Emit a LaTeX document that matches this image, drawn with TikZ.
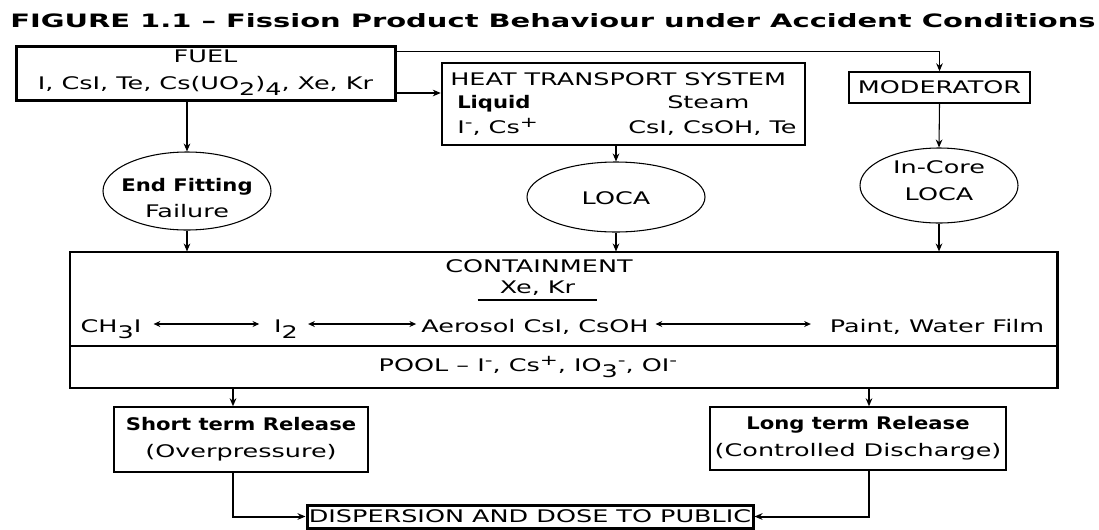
\documentclass[tikz,border=0pt]{standalone}
\usepackage{fontspec}
\setmainfont{DejaVu Sans}[FakeStretch=1.47,BoldFeatures={FakeStretch=1.22}]
\usepackage{graphicx}
\usetikzlibrary{shapes.geometric,arrows.meta}
\newcommand{\lowtext}[1]{\raisebox{-4.5pt}{#1}}
\newcommand{\hightext}[1]{\raisebox{4.5pt}{\fontsize{11}{11}\selectfont #1}}

\begin{document}
\begin{tikzpicture}[x=0.75pt, y=-0.75pt, font=\fontsize{13}{20}\selectfont,
	box/.style = {draw, rectangle, inner sep=0pt, line width=1.1pt, align=center},
	oval/.style = {draw, ellipse, inner sep=0pt, line width=0.8pt},
	txt/.style = {inner sep=0pt, align=center},
	link/.style = {line width=0.8pt, -{Stealth[length=6pt, width=5pt]}},
	both/.style = {line width=0.8pt, {Stealth[length=5pt, width=4.5pt]}-{Stealth[length=5pt, width=4.5pt]}}]
	\clip (0,0) rectangle (1099,529);
	\node[txt, anchor=base west] (title) at (10,27) {\resizebox{814pt}{10.5pt}{\bfseries FIGURE 1.1 -- Fission Product Behaviour under Accident Conditions}};

	\node[box, line width=2.25pt, minimum width=284.25pt, minimum height=40.5pt] (fuel) at (205.5,73) {FUEL\\I, CsI, Te, Cs(UO\lowtext{2})\lowtext{4}, Xe, Kr};

	\node[box, line width=1.9pt, minimum width=272.25pt, minimum height=61.5pt] (hts) at (623.5,104) {};
	\node[txt, anchor=base west] (htstitle) at (450,85) {HEAT TRANSPORT SYSTEM};
	\node[txt, anchor=base west] (liquid) at (457,108) {\textbf{Liquid}};
	\node[txt, anchor=base west] (steam) at (667,108) {Steam};
	\node[txt, anchor=base west] (liqions) at (457,133) {I\hightext{-}, Cs\hightext{+}};
	\node[txt, anchor=base west] (steamions) at (628,133) {CsI, CsOH, Te};

	\node[box, minimum width=135.75pt, minimum height=23.25pt] (mod) at (939.5,87.5) {MODERATOR};

	\node[oval, minimum width=126pt, minimum height=58.5pt] (endfit) at (187,191) {};
	\node[txt] (endfittxt) at (187,198) {\textbf{End Fitting}\\Failure};
	\node[oval, minimum width=133.5pt, minimum height=52.5pt] (loca) at (616,197) {};
	\node[txt] (locatxt) at (616,198) {LOCA};
	\node[oval, minimum width=118.5pt, minimum height=56.25pt] (incore) at (939,185.5) {};
	\node[txt] (incoretxt) at (939,181) {In-Core\\LOCA};

	\node[box, line width=0.8pt, minimum width=740.25pt, minimum height=70.5pt] (cont) at (563.5,299) {};
	\node[box, line width=0.8pt, minimum width=740.25pt, minimum height=31.5pt] (pool) at (563.5,367) {};
	\draw[line width=2.2pt] (cont.north east) -- (pool.south east);
	\node[txt, anchor=base] (conttitle) at (539,272) {CONTAINMENT};
	\node[txt, anchor=base, minimum width=89.25pt] (noble) at (537.5,293) {Xe, Kr};
	\draw[line width=0.8pt] ([yshift=-5.25pt]noble.base west) -- ([yshift=-5.25pt]noble.base east);

	\node[txt, anchor=base] (ch3i) at (111,332) {CH\lowtext{3}I};
	\node[txt, anchor=base] (itwo) at (286,332) {I\lowtext{2}};
	\node[txt, anchor=base] (aerosol) at (535,332) {Aerosol CsI, CsOH};
	\node[txt, anchor=base] (paint) at (937,332) {Paint, Water Film};
	\draw[both, shorten <=9pt, shorten >=11pt] ([yshift=6pt]ch3i.base east) -- ([yshift=6pt]itwo.base west);
	\draw[both, shorten <=7.5pt, shorten >=3.75pt] ([yshift=6pt]itwo.base east) -- ([yshift=6pt]aerosol.base west);
	\draw[both, shorten <=5pt, shorten >=14pt] ([yshift=6pt]aerosol.base east) -- ([yshift=6pt]paint.base west);
	\node[txt] (pooltxt) at (528,367) {POOL -- I\hightext{-}, Cs\hightext{+}, IO\lowtext{3}\hightext{-}, OI\hightext{-}};

	\node[box, minimum width=190.5pt, minimum height=48.75pt] (short) at (241,439.5) {\textbf{Short term Release}\\(Overpressure)};
	\node[box, minimum width=222pt, minimum height=47.25pt] (long) at (858,438.5) {\textbf{Long term Release}\\(Controlled Discharge)};
	\node[box, line width=2.25pt, minimum width=334.5pt, minimum height=17.25pt] (disp) at (530,516.5) {DISPERSION AND DOSE TO PUBLIC};
	\coordinate (shortport) at (233,400);
	\coordinate (longport) at (869,400);

	\draw[link] ([yshift=-5.25pt]fuel.north east) -| (mod.north);
	\draw[link] ([yshift=-15pt]fuel.east) -- ([yshift=-15pt]fuel.east -| hts.west);
	\draw[link] (fuel.south -| endfit.north) -- (endfit.north);
	\draw[link] (hts.south -| loca.north) -- (loca.north);
	\draw[link] (mod.south) -- (incore.north);
	\draw[link] (endfit.south) -- (endfit.south |- cont.north);
	\draw[link] (loca.south) -- (loca.south |- cont.north);
	\draw[link, line width=1.5pt] (incore.south) -- (incore.south |- cont.north);
	\draw[link, line width=1.5pt] (pool.south -| shortport) -- (short.north -| shortport);
	\draw[link, line width=1.5pt] (pool.south -| longport) -- (long.north -| longport);
	\draw[link, line width=1.5pt] (short.south -| shortport) |- (disp.west);
	\draw[link, line width=1.5pt] (long.south -| longport) |- (disp.east);
\end{tikzpicture}
\end{document}
